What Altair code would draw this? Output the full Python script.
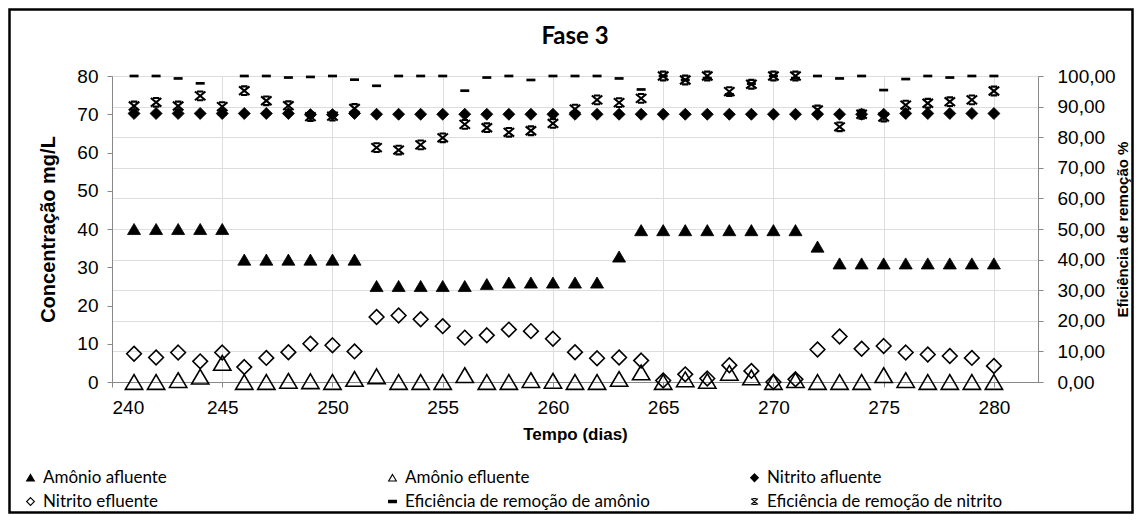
import altair as alt
import pandas as pd

days = list(range(241, 281))

amonio_afluente = [40, 40, 40, 40, 40,
                   32, 32, 32, 32, 32, 32,
                   25.1, 25.1, 25.1, 25.1, 25.1, 25.6,
                   26, 26, 26, 26, 26,
                   32.8,
                   39.7, 39.7, 39.7, 39.7, 39.7, 39.7, 39.7, 39.7,
                   35.4,
                   31, 31, 31, 31, 31, 31, 31, 31]

amonio_efluente = [0, 0, 0.5, 1.4, 5,
                   0, 0, 0.3, 0.2, 0, 0.8,
                   1.5, 0, 0, 0, 1.8,
                   0, 0, 0.5, 0.3, 0,
                   0, 0.8, 2.5,
                   0, 0.7, 0.3, 2.4, 1.2, 0, 0.5,
                   0, 0, 0, 1.8, 0.5, 0, 0, 0, 0]

nitrito_afluente = [70.2, 70.2, 70.2, 70.2, 70.2, 70.2, 70.2, 70.2, 69.9, 69.9,
                    70.2, 70, 70, 70, 70, 70, 70, 70, 70, 70,
                    70, 70, 70, 70, 70, 70, 70, 70, 70, 70,
                    70, 70, 70, 70, 70, 70.2, 70.2, 70.2, 70.2, 70.2]

nitrito_efluente = [7.4, 6.4, 7.7, 5.4, 7.7, 3.9, 6.3, 7.8, 10.0, 9.6,
                    8.0, 17.0, 17.4, 16.4, 14.6, 11.6, 12.2, 13.7, 13.3, 11.3,
                    7.8, 6.2, 6.4, 5.6, 0.4, 2.0, 0.9, 4.4, 2.9, 0,
                    0.7, 8.5, 11.9, 8.7, 9.4, 7.7, 7.2, 6.8, 6.3, 4.2]

eficiencia_amonio = [100, 100, 99.2, 97.6, 87.5, 100, 100, 99.5, 99.7, 100,
                     98.8, 96.8, 100, 100, 100, 95.2, 99.5, 100, 98.7, 100,
                     100, 100, 99.2, 95.6, 100, 98.7, 99.3, 94, 97.5, 100,
                     99.3, 100, 99.2, 100, 95.4, 99, 100, 99.5, 100, 100]

eficiencia_nitrito = [90.2, 91.4, 90.2, 93.5, 90, 95.2, 91.9, 90.3, 86.7, 86.9,
                      89.4, 76.6, 75.8, 77.5, 79.8, 84.2, 83.1, 81.6, 82.1, 84.5,
                      89.2, 92.2, 91.3, 92.7, 100, 98.7, 100, 94.9, 97.3, 100,
                      100, 88.9, 83.4, 87.5, 86.6, 90.5, 91.1, 91.6, 92.2, 95.1]

series_names = ["Amônio afluente", "Amônio efluente", "Nitrito afluente",
                "Nitrito efluente", "Eficiência de remoção de amônio",
                "Eficiência de remoção de nitrito"]
series_values = [amonio_afluente, amonio_efluente, nitrito_afluente,
                 nitrito_efluente, eficiencia_amonio, eficiencia_nitrito]

x_ticks = list(range(240, 281, 5))


def frame(name, vals):
    return pd.DataFrame({"dia": days, "valor": vals, "serie": [name] * len(days)})


frames = [frame(n, v) for n, v in zip(series_names, series_values)]

FONT = "Lato"
TRI = "M0,-0.85L1,0.85L-1,0.85Z"
DIA = "M0,-1L1,0L0,1L-1,0Z"
DASH = "M-1,-0.3H1V0.3H-1Z"
STAR = "M-0.9,-0.75L0.9,0.75M0.9,-0.75L-0.9,0.75M-0.55,-0.75H0.55M-0.55,0.75H0.55"

shapes = [TRI, TRI, DIA, DIA, DASH, STAR]
fills = ["black", "transparent", "black", "transparent", "black", "transparent"]
strokes = ["black"] * 6
sizes = [170, 300, 145, 215, 81, 135]
widths = [0.8, 1.6, 0.8, 1.6, 0, 2.1]

legend = alt.Legend(orient="none", legendX=-90, legendY=393, columns=3,
                    direction="horizontal",
                    title=None, symbolSize=60, labelFontSize=17,
                    labelFont=FONT, labelColor="black", labelLimit=500,
                    symbolStrokeWidth=1.1,
                    gridAlign="all", columnPadding=96, rowPadding=6,
                    labelOffset=4)

x_enc = alt.X("dia:Q", scale=alt.Scale(domain=[240, 282], nice=False, zero=False),
              axis=alt.Axis(values=x_ticks, title="Tempo (dias)", format="d",
                            labelFontSize=19, labelPadding=11, titleFontSize=17,
                            titlePadding=9))
shape_enc = alt.Shape("serie:N", scale=alt.Scale(domain=series_names, range=shapes),
                      legend=legend)
fill_enc = alt.Fill("serie:N", scale=alt.Scale(domain=series_names, range=fills),
                    legend=legend)
stroke_enc = alt.Stroke("serie:N", scale=alt.Scale(domain=series_names, range=strokes),
                        legend=legend)

y_left = alt.Y("valor:Q", scale=alt.Scale(domain=[0, 80], nice=False),
               axis=alt.Axis(orient="left", values=list(range(0, 81, 10)),
                             title="Concentração mg/L", labelFontSize=19,
                             labelPadding=9, titleFontSize=20, titlePadding=18))
y_right = alt.Y("valor:Q", scale=alt.Scale(domain=[0, 100], nice=False),
                axis=alt.Axis(orient="right", values=list(range(0, 101, 10)),
                              title="Eficiência de remoção %",
                              labelExpr="replace(format(datum.value, '.2f'), '.', ',')",
                              labelFontSize=19, labelPadding=14, titleFontSize=15,
                              titleAngle=270, titlePadding=15))


def points(i, y_enc):
    return alt.Chart(frames[i]).mark_point(
        filled=True, opacity=1, size=sizes[i],
        strokeWidth=widths[i], clip=False
    ).encode(x=x_enc, y=y_enc, shape=shape_enc, fill=fill_enc, stroke=stroke_enc)


W, H = 926, 306
PL, PT, PR, PB = 104, 68, 96, 132

border = alt.Chart(pd.DataFrame({"k": [0]})).mark_rect(
    fillOpacity=0, stroke="black", strokeWidth=2.5, clip=False
).encode(x=alt.value(-PL + 1.5), x2=alt.value(W + PR - 1.5),
         y=alt.value(-PT + 1.5), y2=alt.value(H + PB - 1.5))

right = alt.layer(points(4, y_right), points(5, y_right))
left = alt.layer(points(0, y_left), points(1, y_left), points(2, y_left),
                 points(3, y_left))

chart = alt.layer(border, right, left).resolve_scale(
    y="independent"
).properties(
    width=W, height=H,
    title=alt.TitleParams("Fase 3", fontSize=24, fontWeight="bold", font=FONT,
                          color="black", offset=-41, anchor="middle",
                          frame="group"),
    padding={"left": PL, "top": PT, "right": PR, "bottom": PB},
    autosize=alt.AutoSizeParams(type="none"),
).configure_view(stroke=None).configure_axis(
    grid=False, domainColor="#a6a6a6", tickColor="#a6a6a6", tickSize=5,
    labelFont=FONT, titleFont=FONT, labelColor="#404040", titleColor="black",
    titleFontWeight="bold", domainWidth=1.2
).configure(background="white")

chart.save("out.html", embed_options={"renderer": "svg", "actions": False})
